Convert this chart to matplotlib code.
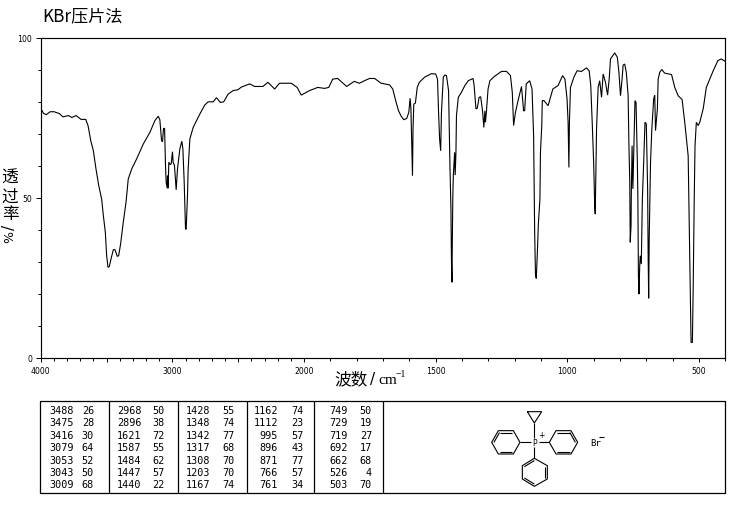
import numpy as np
import matplotlib
matplotlib.use('Agg')
import matplotlib.pyplot as plt

plt.rcParams['font.family'] = ['Noto Sans CJK SC', 'DejaVu Sans']

W, H = 737, 510

# spectrum
wavenumber = [4000, 3979, 3958, 3928, 3898, 3857, 3832, 3789, 3764, 3731, 3693, 3658, 3640, 3620, 3600, 3580,
              3559, 3537, 3524, 3509, 3499, 3489, 3479, 3463, 3448, 3436, 3418, 3408, 3393, 3373, 3352, 3335,
              3309, 3272, 3221, 3170, 3133, 3107, 3095, 3082, 3075, 3067, 3059, 3052, 3047, 3039, 3037, 3032,
              3027, 3017, 3009, 2999, 2994, 2984, 2971, 2961, 2943, 2928, 2920, 2910, 2900, 2895, 2885, 2880,
              2867, 2842, 2791, 2754, 2728, 2690, 2665, 2635, 2610, 2577, 2539, 2501, 2476, 2413, 2375, 2312,
              2274, 2223, 2186, 2097, 2052, 2021, 1979, 1948, 1922, 1906, 1891, 1872, 1838, 1809, 1790, 1765,
              1751, 1732, 1707, 1675, 1663, 1650, 1641, 1631, 1621, 1610, 1602, 1597, 1594, 1588, 1586, 1583,
              1577, 1570, 1562, 1542, 1516, 1500, 1493, 1489, 1485, 1481, 1478, 1471, 1465, 1459, 1451, 1446,
              1442, 1440, 1438, 1437, 1435, 1433, 1428, 1426, 1423, 1421, 1414, 1402, 1389, 1376, 1358, 1354,
              1347, 1342, 1335, 1329, 1322, 1317, 1313, 1311, 1307, 1301, 1294, 1276, 1250, 1231, 1216, 1209,
              1204, 1197, 1187, 1174, 1171, 1166, 1162, 1156, 1143, 1134, 1128, 1124, 1121, 1118, 1114, 1110,
              1104, 1102, 1097, 1095, 1089, 1073, 1055, 1035, 1018, 1009, 1001, 997, 994, 992, 988, 975,
              963, 946, 927, 917, 911, 905, 900, 896, 894, 889, 883, 877, 870, 864, 855, 847,
              841, 836, 820, 810, 804, 798, 792, 788, 782, 776, 769, 766, 763, 761, 758, 757,
              754, 751, 747, 743, 739, 734, 732, 730, 728, 725, 723, 719, 715, 710, 705, 700,
              695, 693, 691, 689, 684, 679, 672, 668, 665, 658, 655, 649, 641, 631, 604, 592,
              579, 564, 554, 541, 537, 532, 530, 525, 522, 518, 515, 510, 503, 497, 484, 472,
              446, 428, 415, 402, 400]
transmittance = [77.9, 76.3, 75.9, 76.8, 76.8, 76.2, 75.2, 75.6, 75.0, 75.6, 74.4, 74.4, 72.4, 67.8, 64.6, 58.9,
                 53.7, 49.5, 44.3, 39.1, 31.8, 28.2, 28.4, 31.3, 33.7, 33.7, 31.6, 31.8, 35.5, 42.2, 48.5, 55.8,
                 58.9, 62.0, 66.7, 70.4, 74.0, 75.4, 74.3, 67.8, 67.4, 71.6, 71.6, 59.9, 54.7, 52.9, 56.8, 52.9,
                 61.0, 60.3, 60.5, 64.3, 61.0, 60.0, 52.4, 58.9, 65.2, 67.6, 65.2, 54.7, 40.1, 40.1, 50.6, 58.9,
                 68.3, 71.9, 76.1, 78.9, 79.9, 79.9, 81.2, 79.7, 79.9, 82.3, 83.4, 83.7, 84.5, 85.5, 84.7, 84.7,
                 86.0, 83.9, 85.7, 85.7, 84.4, 82.0, 83.4, 84.4, 84.1, 84.4, 87.0, 87.2, 84.7, 86.3, 85.7, 86.7,
                 87.2, 87.2, 85.7, 85.2, 83.9, 79.7, 77.1, 75.4, 74.3, 74.7, 76.6, 81.0, 77.7, 56.8, 71.4, 79.2,
                 79.5, 84.4, 86.0, 87.6, 88.7, 88.6, 87.0, 76.6, 68.3, 64.6, 76.6, 87.6, 88.3, 88.1, 83.4, 61.0,
                 46.4, 30.0, 23.5, 34.0, 49.5, 56.8, 64.1, 57.0, 64.0, 75.6, 81.3, 82.9, 85.0, 86.5, 87.2, 85.0,
                 77.7, 77.9, 81.3, 81.5, 77.1, 71.9, 77.1, 73.5, 77.1, 83.9, 86.5, 87.9, 89.4, 89.4, 88.1, 82.9,
                 72.5, 76.6, 80.3, 84.7, 81.8, 77.1, 77.1, 85.5, 86.5, 83.9, 69.3, 39.1, 26.1, 24.7, 32.3, 41.7,
                 49.5, 64.1, 72.5, 80.3, 80.3, 78.7, 83.9, 85.0, 88.1, 87.0, 80.8, 73.5, 59.4, 73.5, 84.4, 87.6,
                 89.6, 89.4, 90.5, 89.6, 85.0, 72.5, 61.0, 47.5, 44.8, 71.4, 84.4, 86.5, 81.3, 88.6, 86.0, 82.0,
                 87.0, 93.3, 95.2, 93.8, 89.1, 81.8, 87.0, 91.4, 91.7, 89.1, 81.8, 66.2, 55.8, 36.0, 41.2, 50.6,
                 66.2, 52.7, 66.2, 80.3, 79.7, 61.0, 49.5, 25.6, 19.8, 28.7, 31.8, 29.2, 49.5, 61.0, 73.5, 73.0,
                 52.7, 31.8, 18.5, 37.0, 61.0, 71.4, 80.8, 82.0, 70.9, 77.6, 87.0, 89.1, 90.0, 88.9, 88.4, 84.4,
                 81.8, 80.6, 73.5, 63.0, 42.2, 15.7, 4.7, 4.7, 21.4, 49.5, 66.2, 73.5, 72.5, 73.5, 77.7, 84.4,
                 89.6, 92.8, 93.3, 92.6, 92.6]

x_major = [4000, 3500, 3000, 2500, 2000, 1500, 1000, 500]
x_labels = ['4000', '', '3000', '', '2000', '1500', '1000', '500']
y_major = [0, 50, 100]

# peak table, one list per block
table_wn = [[3488, 3475, 3416, 3079, 3053, 3043, 3009],
            [2968, 2896, 1621, 1587, 1484, 1447, 1440],
            [1428, 1348, 1342, 1317, 1308, 1203, 1167],
            [1162, 1112, 995, 896, 871, 766, 761],
            [749, 729, 719, 692, 662, 526, 503]]
table_t = [[26, 28, 30, 64, 52, 50, 68],
           [50, 38, 72, 55, 62, 57, 22],
           [55, 74, 77, 68, 70, 70, 74],
           [74, 23, 57, 43, 77, 57, 34],
           [50, 19, 27, 17, 68, 4, 70]]


# the axis is twice as wide per wavenumber below 2000
def forward(w):
    w = np.asarray(w, dtype=float)
    return np.where(w >= 2000, w, 2000 + (w - 2000) * 2)


def inverse(v):
    v = np.asarray(v, dtype=float)
    return np.where(v >= 2000, v, 2000 + (v - 2000) / 2)


fig = plt.figure(figsize=(W / 100, H / 100), dpi=100)
ax = fig.add_axes([40.7 / W, 1 - 358.5 / H, (725.3 - 40.7) / W, 320 / H])
ax.set_xscale('function', functions=(forward, inverse))
ax.plot(wavenumber, transmittance, color='black', lw=0.8, solid_joinstyle='miter')
ax.set_xlim(4000, 400)
ax.set_ylim(0, 100)
for s in ax.spines.values():
    s.set_linewidth(0.85)

ax.set_xticks(x_major)
ax.set_xticklabels(x_labels, family='DejaVu Sans', fontsize=5.6)
ax.set_xticks(list(range(400, 4000, 100)), minor=True)
ax.set_yticks(y_major)
ax.set_yticklabels(['0', '50', '100'], family='DejaVu Sans', fontsize=5.6)
ax.set_yticks(list(range(0, 101, 10)), minor=True)
ax.tick_params(axis='x', which='major', length=3.2, width=0.7, pad=3)
ax.tick_params(axis='x', which='minor', length=2, width=0.7)
ax.tick_params(axis='y', which='major', length=3.6, width=0.7, pad=2.5)
ax.tick_params(axis='y', which='minor', length=2, width=0.7)

# overlay in pixel coordinates for the table box and the structure
ov = fig.add_axes([0, 0, 1, 1])
ov.set_xlim(0, W)
ov.set_ylim(H, 0)
ov.axis('off')
ov.patch.set_alpha(0)


def seg(xs, ys, lw=0.8):
    ov.plot(xs, ys, color='black', lw=lw, solid_capstyle='butt')


seg([40, 725, 725, 40, 40], [402, 402, 494, 494, 402], lw=0.9)
for vx in [109.3, 177.7, 246.7, 314.3, 383.3]:
    seg([vx, vx], [402, 494], lw=0.9)

row_y = [411, 423.3, 435.7, 448.3, 460.7, 473, 485]
wn_right = [73.5, 141.7, 210, 278, 347.3]
t_right = [94, 164.5, 235, 303.5, 372]
for c in range(5):
    for r in range(7):
        ov.text(wn_right[c], row_y[r], str(table_wn[c][r]), ha='right', va='center',
                family='DejaVu Sans Mono', fontsize=7.3)
        ov.text(t_right[c], row_y[r], str(table_t[c][r]), ha='right', va='center',
                family='DejaVu Sans Mono', fontsize=7.3)


# structure, measured on a 3x crop whose corner is at 470,400
def sx(v):
    return 470 + np.asarray(v) / 3


def sy(v):
    return 400 + np.asarray(v) / 3


rings = [[(65, 130), (85, 95), (130, 95), (150, 130), (130, 165), (85, 165)],
         [(238, 130), (258, 95), (303, 95), (323, 130), (303, 165), (258, 165)],
         [(193, 178), (232, 200), (232, 240), (193, 262), (157, 240), (157, 200)]]
doubles = [[0, 1, 4], [1, 2, 4], [1, 3, 5]]
for ring, dbl in zip(rings, doubles):
    pts = np.array(ring + ring[:1], dtype=float)
    seg(sx(pts[:, 0]), sy(pts[:, 1]))
    c = np.array(ring, dtype=float).mean(axis=0)
    for i in dbl:
        a = c + (pts[i] - c) * 0.84
        b = c + (pts[i + 1] - c) * 0.84
        seg(sx([a[0], b[0]]), sy([a[1], b[1]]))

seg(sx([150, 183]), sy([130, 130]))
seg(sx([207, 238]), sy([130, 130]))
seg(sx([193, 193]), sy([116, 72]))
seg(sx([193, 193]), sy([144, 178]))
seg(sx([172, 215, 193, 172]), sy([38, 38, 72, 38]))
ov.text(sx(195), sy(131), 'P', ha='center', va='center', family='DejaVu Sans', fontsize=5.6)
ov.text(sx(213), sy(108), '+', ha='center', va='center', family='DejaVu Sans', fontsize=5.5)
ov.text(sx(378), sy(132), 'Br', ha='center', va='center', family='DejaVu Sans Mono', fontsize=6.5)
seg(sx([386, 402]), sy([115, 115]))

# title and axis captions
ov.text(42, 16.5, 'KBr压片法', ha='left', va='center', fontsize=12.3)
for ch, y in zip('透过率', [178, 197, 215]):
    ov.text(10, y, ch, ha='center', va='center', fontsize=12)
ov.text(10, 227, '/', ha='center', va='center', rotation=90, fontsize=11, family='DejaVu Sans')
ov.text(10, 237, '%', ha='center', va='center', rotation=90, fontsize=9, family='DejaVu Sans')
ov.text(334, 379.5, '波数', ha='left', va='center', fontsize=12)
ov.text(370, 379.5, '/', ha='left', va='center', fontsize=11, family='DejaVu Sans')
ov.text(378, 381, 'cm', ha='left', va='center', fontsize=11, family='Liberation Serif')
ov.text(396, 375, '−1', ha='left', va='center', fontsize=7, family='Liberation Serif')

fig.savefig('out.png', dpi=100)
